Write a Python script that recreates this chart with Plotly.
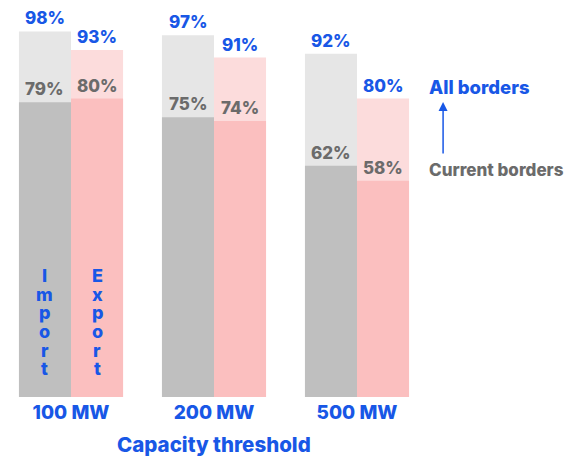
import plotly.graph_objects as go

categories = ["100 MW", "200 MW", "500 MW"]
import_all = [98, 97, 92]
import_current = [79, 75, 62]
export_all = [93, 91, 80]
export_current = [80, 74, 58]

BLUE = "#1857e6"
GREY_TXT = "#6b6b6b"
FONT = "Inter, Arial, sans-serif"
WT = 800

xs = list(range(len(categories)))
W = 0.364

fig = go.Figure()
fig.add_trace(go.Bar(x=xs, y=import_all, width=W, offset=-W, marker_color="#e6e6e6",
                     marker_line_width=0, name="Import all"))
fig.add_trace(go.Bar(x=xs, y=import_current, width=W, offset=-W, marker_color="#bfbfbf",
                     marker_line_width=0, name="Import current"))
fig.add_trace(go.Bar(x=xs, y=export_all, width=W, offset=0, marker_color="#fcdcdc",
                     marker_line_width=0, name="Export all"))
fig.add_trace(go.Bar(x=xs, y=export_current, width=W, offset=0, marker_color="#fbbfbf",
                     marker_line_width=0, name="Export current"))

for i in xs:
    for off, allv, curv in [(-W / 2, import_all[i], import_current[i]),
                            (W / 2, export_all[i], export_current[i])]:
        fig.add_annotation(x=i + off, y=allv, xref="x", yref="y", text=f"{allv}%",
                           showarrow=False, yanchor="bottom", yshift=1,
                           font=dict(family=FONT, size=17, color=BLUE, weight=WT))
        fig.add_annotation(x=i + off, y=curv, xref="x", yref="y", text=f"{curv}%",
                           showarrow=False, yanchor="bottom", yshift=1,
                           font=dict(family=FONT, size=17, color=GREY_TXT, weight=WT))

for off, word in [(-W / 2, "Import"), (W / 2, "Export")]:
    for k, ch in enumerate(word):
        fig.add_annotation(x=0 + off, y=32.5, xref="x", yref="y", text=ch,
                           showarrow=False, yanchor="middle", yshift=-18.6 * k,
                           borderpad=0,
                           font=dict(family=FONT, size=18, color=BLUE, weight=WT))

fig.add_annotation(x=1, y=-0.088, xref="x", yref="paper", text="Capacity threshold",
                   showarrow=False, yanchor="top",
                   font=dict(family=FONT, size=20.5, color=BLUE, weight=WT))
fig.add_annotation(x=0.737, y=0.831, xref="paper", yref="paper", text="All borders",
                   showarrow=False, xanchor="left", yanchor="middle",
                   font=dict(family=FONT, size=18.5, color=BLUE, weight=WT))
fig.add_annotation(x=0.737, y=0.609, xref="paper", yref="paper", text="Current borders",
                   showarrow=False, xanchor="left", yanchor="middle",
                   font=dict(family=FONT, size=17, color=GREY_TXT, weight=WT))
fig.add_annotation(x=0.766, y=0.791, ax=0, ay=53, xref="paper", yref="paper",
                   axref="pixel", ayref="pixel", text="", showarrow=True,
                   arrowhead=2, arrowsize=1.2, arrowwidth=1.5, arrowcolor=BLUE)

fig.update_layout(
    width=568, height=449,
    margin=dict(l=0, r=0, t=16, b=60),
    plot_bgcolor="white", paper_bgcolor="white",
    barmode="overlay", showlegend=False,
    xaxis=dict(range=[-0.4406, 3.5315], tickvals=xs, ticktext=categories,
               showgrid=False, zeroline=False, showline=False, ticks="",
               ticklabelstandoff=2,
               tickfont=dict(family=FONT, size=19, color=BLUE, weight=WT)),
    yaxis=dict(range=[0, 100], visible=False),
)

fig.write_html("out.html")
